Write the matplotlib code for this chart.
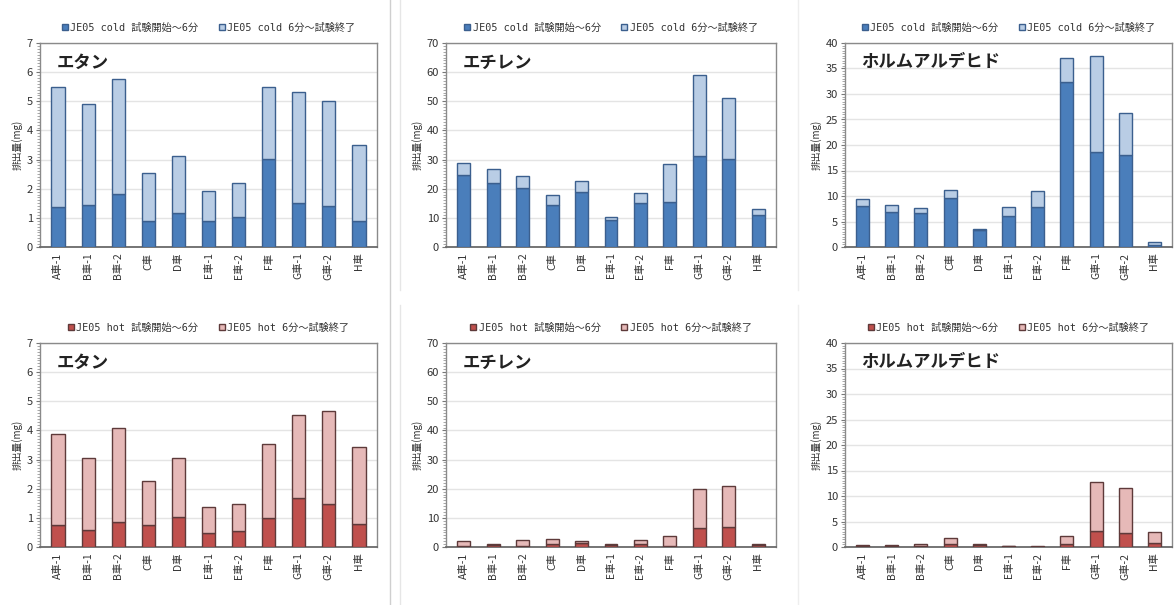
import matplotlib
matplotlib.use("Agg")
import matplotlib.pyplot as plt
from matplotlib.ticker import MultipleLocator, AutoMinorLocator
from matplotlib.lines import Line2D
import numpy as np

plt.rcParams['font.family'] = ['Noto Sans CJK JP', 'DejaVu Sans']

categories = ["A車-1", "B車-1", "B車-2", "C車", "D車", "E車-1", "E車-2", "F車", "G車-1", "G車-2", "H車"]

# cold (first 6 min, total)
ethane_cold_first = [1.38, 1.43, 1.83, 0.90, 1.15, 0.90, 1.02, 3.02, 1.52, 1.42, 0.90]
ethane_cold_total = [5.50, 4.92, 5.78, 2.55, 3.12, 1.93, 2.18, 5.50, 5.33, 5.02, 3.50]
ethylene_cold_first = [24.8, 21.8, 20.3, 14.3, 19.0, 9.3, 15.0, 15.6, 31.3, 30.1, 11.0]
ethylene_cold_total = [28.7, 26.8, 24.2, 18.0, 22.6, 10.2, 18.4, 28.6, 59.0, 51.0, 13.0]
formal_cold_first = [8.1, 6.9, 6.6, 9.6, 3.3, 6.1, 7.8, 32.3, 18.7, 18.0, 0.4]
formal_cold_total = [9.5, 8.3, 7.6, 11.1, 3.6, 7.9, 10.9, 37.0, 37.5, 26.3, 1.0]

# hot
ethane_hot_first = [0.75, 0.60, 0.87, 0.75, 1.02, 0.48, 0.55, 1.00, 1.67, 1.48, 0.80]
ethane_hot_total = [3.88, 3.07, 4.07, 2.27, 3.05, 1.37, 1.48, 3.52, 4.52, 4.65, 3.42]
ethylene_hot_first = [0.3, 0.6, 0.4, 1.0, 1.3, 0.8, 1.2, 0.3, 6.4, 6.8, 0.7]
ethylene_hot_total = [2.2, 1.1, 2.4, 2.7, 2.1, 1.2, 2.3, 3.9, 20.0, 20.8, 1.0]
formal_hot_first = [0.25, 0.25, 0.10, 0.6, 0.45, 0.10, 0.05, 0.5, 3.2, 2.7, 0.7]
formal_hot_total = [0.35, 0.35, 0.50, 1.7, 0.60, 0.20, 0.15, 2.1, 12.7, 11.5, 2.9]

titles = ["エタン", "エチレン", "ホルムアルデヒド"]
ymaxes = [7, 70, 40]
ysteps = [1, 10, 5]

cold_labels = ["JE05 cold 試験開始～6分", "JE05 cold 6分～試験終了"]
hot_labels = ["JE05 hot 試験開始～6分", "JE05 hot 6分～試験終了"]

W, H = 1175, 605
fig = plt.figure(figsize=(W / 100, H / 100), dpi=100)

def px_axes(x0, y0, x1, y1):
    return fig.add_axes([x0 / W, 1 - y1 / H, (x1 - x0) / W, (y1 - y0) / H])

cols = [(40, 377), (446, 776), (845, 1172)]
rows = [(43, 247), (343, 547)]

data = [
    [(ethane_cold_first, ethane_cold_total), (ethylene_cold_first, ethylene_cold_total), (formal_cold_first, formal_cold_total)],
    [(ethane_hot_first, ethane_hot_total), (ethylene_hot_first, ethylene_hot_total), (formal_hot_first, formal_hot_total)],
]
styles = [
    dict(dark="#4a7ebb", light="#b9cde5", edge="#3b5f8e", labels=cold_labels),
    dict(dark="#c0504d", light="#e6b9b8", edge="#5e3a3a", labels=hot_labels),
]

x = np.arange(len(categories))
for r, (y0, y1) in enumerate(rows):
    st = styles[r]
    for c, (x0, x1) in enumerate(cols):
        ax = px_axes(x0, y0, x1, y1)
        first, total = data[r][c]
        first = np.array(first)
        rest = np.array(total) - first
        ax.bar(x, first, width=0.44, color=st["dark"], edgecolor=st["edge"], linewidth=1.0, zorder=3, label=st["labels"][0])
        ax.bar(x, rest, width=0.44, bottom=first, color=st["light"], edgecolor=st["edge"], linewidth=1.0, zorder=3, label=st["labels"][1])
        ax.set_xlim(-0.6, len(categories) - 0.4)
        ax.set_ylim(0, ymaxes[c])
        ax.yaxis.set_major_locator(MultipleLocator(ysteps[c]))
        ax.yaxis.set_minor_locator(AutoMinorLocator(10))
        ax.grid(axis='y', color='#e4e4e4', linewidth=1.0, zorder=0)
        ax.set_axisbelow(True)
        for s in ax.spines.values():
            s.set_color('#8a8a8a')
            s.set_linewidth(1.0)
        ax.spines['bottom'].set_color('#6a6a6a')
        ax.spines['bottom'].set_linewidth(1.3)
        ax.tick_params(axis='y', which='major', length=3, width=0.8, color='#777777', labelsize=8, labelcolor='#333333', pad=2)
        ax.tick_params(axis='y', which='minor', length=2, width=0.6, color='#999999')
        ax.set_xticks(x)
        ax.set_xticklabels(categories, rotation=90, fontsize=7.5, color='#333333')
        ax.tick_params(axis='x', length=0, pad=4)
        ax.set_ylabel("排出量(mg)", fontsize=7, color='#333333', labelpad=3)
        ax.text(0.05, 0.905, titles[c], transform=ax.transAxes, fontsize=12.5,
                fontweight='bold', color='#222222', va='center', ha='left', zorder=5)
        leg = ax.legend(loc='lower center', bbox_to_anchor=(0.5, 1.02), ncol=2, frameon=False,
                        prop={'family': ['DejaVu Sans Mono', 'Noto Sans CJK JP'], 'size': 7.3},
                        handlelength=0.6, handleheight=0.6, handletextpad=0.25,
                        columnspacing=2.0, borderaxespad=0.2)
        for t in leg.get_texts():
            t.set_color('#333333')

# panel separators
fig.add_artist(Line2D([390 / W, 390 / W], [0, 1], color='#cfcfcf', linewidth=1.0))
fig.add_artist(Line2D([400 / W, 400 / W], [1 - 290 / H, 1], color='#e6e6e6', linewidth=1.0))
fig.add_artist(Line2D([400 / W, 400 / W], [0, 1 - 305 / H], color='#e6e6e6', linewidth=1.0))
fig.add_artist(Line2D([798 / W, 798 / W], [1 - 290 / H, 1], color='#eeeeee', linewidth=1.0))
fig.add_artist(Line2D([798 / W, 798 / W], [0, 1 - 305 / H], color='#eeeeee', linewidth=1.0))

fig.savefig("out.png", dpi=100, facecolor='white')
